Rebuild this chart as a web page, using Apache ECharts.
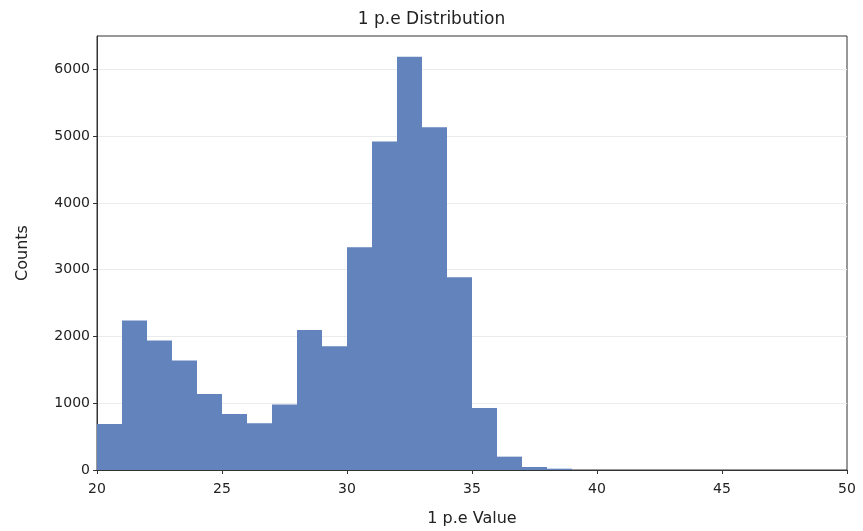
<!DOCTYPE html>
<html><head><meta charset="utf-8">
<script src="https://cdn.jsdelivr.net/npm/echarts@6/dist/echarts.min.js"></script>
<style>html,body{margin:0;padding:0;background:#fff}#c{width:863px;height:531px}</style>
</head><body><div id="c"></div>
<script>
const binStarts = [20,21,22,23,24,25,26,27,28,29,30,31,32,33,34,35,36,37,38];
const binWidth = 1;
const counts = [690,2240,1940,1640,1140,840,700,980,2095,1855,3335,4920,6190,5135,2885,930,200,45,20];
const xTicks = [20,25,30,35,40,45,50];
const yTicks = [0,1000,2000,3000,4000,5000,6000];

const chart = echarts.init(document.getElementById('c'), null, {renderer:'canvas'});
const font = 'DejaVu Sans';
chart.setOption({
  animation:false,
  title:{text:'1 p.e Distribution', left:'center', top:6, textStyle:{fontFamily:font, fontSize:17, fontWeight:'normal', color:'#222'}},
  grid:{left:97, right:16, top:36, bottom:61, outerBoundsMode:'none', containLabel:false, show:true, borderColor:'#333', borderWidth:1, backgroundColor:'transparent'},
  xAxis:{type:'value', min:xTicks[0], max:xTicks[xTicks.length-1], interval:5,
    name:'1 p.e Value', nameLocation:'middle', nameGap:41, nameTextStyle:{fontFamily:font, fontSize:16, color:'#222'},
    axisLine:{show:true, onZero:false, lineStyle:{color:'#333'}}, axisTick:{show:true, length:4, lineStyle:{color:'#333'}},
    axisLabel:{fontFamily:font, fontSize:14, color:'#222', margin:12},
    splitLine:{show:false}},
  yAxis:{type:'value', min:0, max:6500, interval:1000,
    name:'Counts', nameLocation:'middle', nameGap:66, nameRotate:90, nameTextStyle:{fontFamily:font, fontSize:16, color:'#222'},
    axisLine:{show:true, lineStyle:{color:'#333'}},
    axisTick:{show:true, length:4, lineStyle:{color:'#333'}, customValues:yTicks},
    axisLabel:{fontFamily:font, fontSize:14, color:'#222', margin:7, customValues:yTicks, formatter:v => String(v)},
    splitLine:{show:true, lineStyle:{color:'#ebebeb', width:1}}},
  series:[{
    type:'custom',
    data: binStarts.map((s,i)=>[s, s+binWidth, counts[i]]),
    encode:{x:[0,1], y:2},
    renderItem:(params, api)=>{
      const p0 = api.coord([api.value(0), 0]);
      const p1 = api.coord([api.value(1), api.value(2)]);
      return {type:'rect', shape:{x:p0[0], y:p1[1], width:p1[0]-p0[0], height:p0[1]-p1[1]},
        style:{fill:'#6283bb'}};
    }
  }]
});
</script></body></html>
